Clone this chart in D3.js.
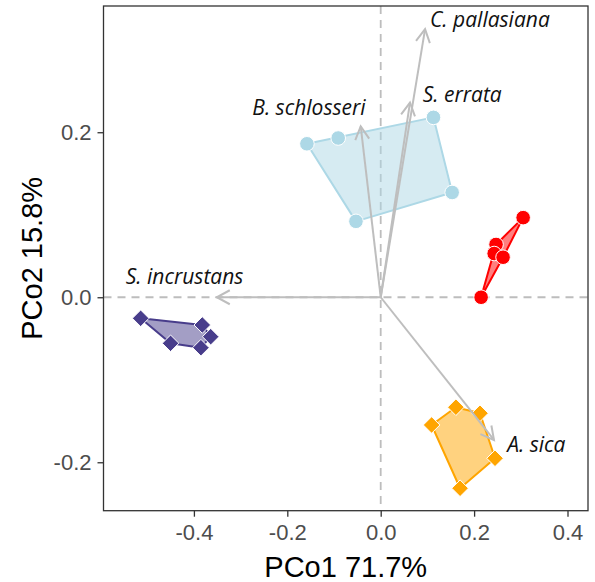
<!DOCTYPE html>
<html>
<head>
<meta charset="utf-8">
<script src="https://cdn.jsdelivr.net/npm/d3@7"></script>
<style>
  body { margin: 0; background: #fff; }
  svg { display: block; }
</style>
</head>
<body>
<div id="chart"></div>
<script>
// group scores (PCo1, PCo2)
const groupNames = ['blue', 'red', 'purple', 'orange'];
const blueX = [-0.158, -0.091, 0.113, 0.153, -0.053];
const blueY = [0.186, 0.193, 0.218, 0.127, 0.092];
const redX = [0.305, 0.247, 0.243, 0.262, 0.215];
const redY = [0.0965, 0.064, 0.053, 0.0485, 0.0];
const purpleX = [-0.514, -0.382, -0.364, -0.450, -0.385];
const purpleY = [-0.0255, -0.0336, -0.0478, -0.0558, -0.0611];
const orangeX = [0.109, 0.161, 0.2126, 0.2448, 0.170];
const orangeY = [-0.1548, -0.1333, -0.1406, -0.1952, -0.2315];

// species vectors
const species = ['C. pallasiana', 'S. errata', 'B. schlosseri', 'S. incrustans', 'A. sica'];
const vecX = [0.095, 0.0627, -0.0428, -0.351, 0.2426];
const vecY = [0.325, 0.236, 0.207, 0.0, -0.173];
const labelX = [0.1056, 0.090, -0.275, -0.546, 0.271];
const labelY = [0.328, 0.237, 0.221, 0.016, -0.188];

const xTicks = [-0.4, -0.2, 0.0, 0.2, 0.4];
const yTicks = [-0.2, 0.0, 0.2];

const W = 595, H = 582;
const margin = { left: 103.5, top: 6, right: 7, bottom: 71.3 };
const width = W - margin.left - margin.right;
const height = H - margin.top - margin.bottom;

const svg = d3.select('#chart').append('svg')
  .attr('width', W)
  .attr('height', H);

const x = d3.scaleLinear().domain([-0.5936, 0.4439]).range([0, width]);
const y = d3.scaleLinear().domain([-0.2587, 0.353]).range([height, 0]);

const g = svg.append('g')
  .attr('transform', 'translate(' + margin.left + ',' + margin.top + ')');

const defs = svg.append('defs');
defs.append('marker')
  .attr('id', 'head')
  .attr('markerUnits', 'userSpaceOnUse')
  .attr('markerWidth', 18)
  .attr('markerHeight', 18)
  .attr('viewBox', '-1 -9 18 18')
  .attr('refX', 13)
  .attr('refY', 0)
  .attr('orient', 'auto')
  .append('path')
  .attr('d', 'M0,-7L13,0L0,7')
  .attr('fill', 'none')
  .attr('stroke', '#bebebe')
  .attr('stroke-width', 2);

// reference lines
g.append('line')
  .attr('x1', x(0)).attr('x2', x(0))
  .attr('y1', 0).attr('y2', height)
  .attr('stroke', '#bdbdbd').attr('stroke-width', 1.8)
  .attr('stroke-dasharray', '8,6');
g.append('line')
  .attr('x1', 0).attr('x2', width)
  .attr('y1', y(0)).attr('y2', y(0))
  .attr('stroke', '#bdbdbd').attr('stroke-width', 1.8)
  .attr('stroke-dasharray', '8,6');

const groups = [
  { xs: blueX, ys: blueY, color: '#add8e6', shape: 'circle' },
  { xs: redX, ys: redY, color: '#ff0000', shape: 'circle' },
  { xs: purpleX, ys: purpleY, color: '#483d8b', shape: 'diamond' },
  { xs: orangeX, ys: orangeY, color: '#ffa500', shape: 'diamond' }
];

groups.forEach((grp, i) => {
  const pts = grp.xs.map((v, j) => [x(v), y(grp.ys[j])]);
  const hull = d3.polygonHull(pts);
  g.append('path')
    .attr('class', 'hull ' + groupNames[i])
    .attr('d', 'M' + hull.join('L') + 'Z')
    .attr('fill', grp.color)
    .attr('fill-opacity', 0.5)
    .attr('stroke', grp.color)
    .attr('stroke-width', 2)
    .attr('stroke-linejoin', 'round');
});

groups.forEach((grp, i) => {
  const pts = grp.xs.map((v, j) => [x(v), y(grp.ys[j])]);
  if (grp.shape === 'circle') {
    g.selectAll('circle.pt-' + i)
      .data(pts)
      .enter()
      .append('circle')
      .attr('class', 'pt-' + i)
      .attr('cx', d => d[0])
      .attr('cy', d => d[1])
      .attr('r', 7.3)
      .attr('fill', grp.color)
      .attr('stroke', '#fff')
      .attr('stroke-width', 1);
  } else {
    const s = 8.3;
    g.selectAll('path.pt-' + i)
      .data(pts)
      .enter()
      .append('path')
      .attr('class', 'pt-' + i)
      .attr('d', d => `M${d[0]},${d[1] - s}L${d[0] + s},${d[1]}L${d[0]},${d[1] + s}L${d[0] - s},${d[1]}Z`)
      .attr('fill', grp.color)
      .attr('stroke', '#fff')
      .attr('stroke-width', 1);
  }
});

// species arrows
g.selectAll('line.vec')
  .data(species)
  .enter()
  .append('line')
  .attr('class', 'vec')
  .attr('x1', x(0))
  .attr('y1', y(0))
  .attr('x2', (d, i) => x(vecX[i]))
  .attr('y2', (d, i) => y(vecY[i]))
  .attr('stroke', '#bebebe')
  .attr('stroke-width', 2)
  .attr('marker-end', 'url(#head)');

g.selectAll('text.sp')
  .data(species)
  .enter()
  .append('text')
  .attr('class', 'sp')
  .attr('x', (d, i) => x(labelX[i]))
  .attr('y', (d, i) => y(labelY[i]))
  .attr('font-family', '"Open Sans", sans-serif')
  .attr('font-style', 'italic')
  .attr('font-size', 21)
  .attr('fill', '#111')
  .text(d => d);

// panel border
g.append('rect')
  .attr('x', 0).attr('y', 0)
  .attr('width', width).attr('height', height)
  .attr('fill', 'none')
  .attr('stroke', '#333')
  .attr('stroke-width', 1.3);

const xAxis = d3.axisBottom(x).tickValues(xTicks).tickSize(6).tickPadding(8)
  .tickFormat(d3.format('.1f'));
const yAxis = d3.axisLeft(y).tickValues(yTicks).tickSize(6).tickPadding(6)
  .tickFormat(d3.format('.1f'));

const gx = g.append('g')
  .attr('transform', 'translate(0,' + height + ')')
  .call(xAxis);
const gy = g.append('g').call(yAxis);

[gx, gy].forEach(ax => {
  ax.select('.domain').remove();
  ax.selectAll('.tick line').attr('stroke', '#333').attr('stroke-width', 1.3);
  ax.selectAll('.tick text')
    .attr('fill', '#4d4d4d')
    .attr('font-family', '"Liberation Sans", Arial, sans-serif')
    .attr('font-size', 22)
    .text(function () { return this.textContent.replace('−', '-'); });
});

svg.append('text')
  .attr('x', margin.left + width / 2)
  .attr('y', H - 5)
  .attr('text-anchor', 'middle')
  .attr('font-family', '"Liberation Sans", Arial, sans-serif')
  .attr('font-size', 29)
  .attr('fill', '#000')
  .text('PCo1 71.7%');

svg.append('text')
  .attr('transform', 'translate(' + 42 + ',' + (margin.top + height / 2) + ') rotate(-90)')
  .attr('text-anchor', 'middle')
  .attr('font-family', '"Liberation Sans", Arial, sans-serif')
  .attr('font-size', 29)
  .attr('fill', '#000')
  .text('PCo2 15.8%');
</script>
</body>
</html>
